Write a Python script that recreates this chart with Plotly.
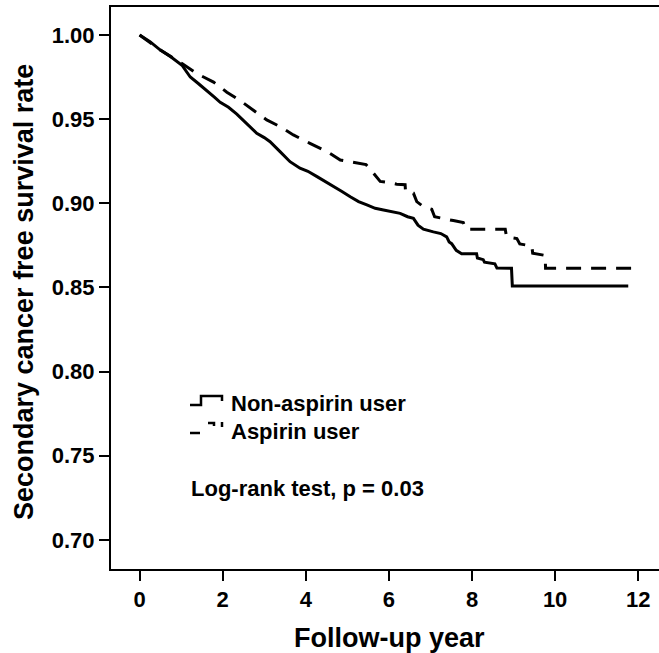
import plotly.graph_objects as go

# Kaplan-Meier curves
non_t = [0, 0.25, 0.5, 0.75, 1.02, 1.22, 1.42, 1.62, 1.8, 1.94, 2.14, 2.34, 2.58, 2.82, 3.0,
         3.14, 3.38, 3.62, 3.86, 4.05, 4.27, 4.47, 4.67, 4.87, 5.07, 5.27, 5.47, 5.67, 5.87,
         6.07, 6.27, 6.45, 6.59, 6.70, 6.83, 7.07, 7.25, 7.39, 7.45, 7.51, 7.62, 7.75, 8.11,
         8.13, 8.27, 8.30, 8.55, 8.60, 8.95, 8.97, 11.76]
non_s = [1.0, 0.996, 0.991, 0.987, 0.982, 0.975, 0.971, 0.967, 0.963, 0.960, 0.957, 0.953,
         0.9475, 0.9416, 0.939, 0.9366, 0.9307, 0.9247, 0.9208, 0.919, 0.9158, 0.913, 0.9099,
         0.907, 0.9039, 0.901, 0.899, 0.897, 0.896, 0.895, 0.894, 0.892, 0.891, 0.887, 0.8846,
         0.883, 0.882, 0.880, 0.877, 0.876, 0.872, 0.870, 0.870, 0.8675, 0.8665, 0.865, 0.864,
         0.8615, 0.8614, 0.8509, 0.8509]

asp_t = [0, 0.5, 1.02, 1.38, 1.78, 2.10, 2.42, 2.74, 3.06, 3.38, 3.70, 4.10, 4.51, 4.83, 5.1,
         5.31, 5.45, 5.63, 5.79, 5.95, 6.19, 6.39, 6.40, 6.59, 6.67, 6.83, 7.03, 7.10, 7.35,
         7.55, 7.79, 7.85, 8.80, 8.83, 9.08, 9.15, 9.44, 9.46, 9.76, 9.77, 12.0]
asp_s = [1.0, 0.991, 0.983, 0.977, 0.972, 0.966, 0.961, 0.9554, 0.9495, 0.9455, 0.9406, 0.9356,
         0.9307, 0.9257, 0.9245, 0.9238, 0.923, 0.9178, 0.913, 0.9125, 0.9113, 0.911, 0.907,
         0.906, 0.901, 0.898, 0.8964, 0.892, 0.8905, 0.8897, 0.8885, 0.8846, 0.8846, 0.880,
         0.879, 0.8758, 0.8746, 0.8703, 0.869, 0.8614, 0.8614]

x_ticks = [0, 2, 4, 6, 8, 10, 12]
y_ticks = [0.70, 0.75, 0.80, 0.85, 0.90, 0.95, 1.00]
y_tick_text = ["0.70", "0.75", "0.80", "0.85", "0.90", "0.95", "1.00"]

W, H = 659, 653
ML, MR, MT, MB = 111, 0, 7, 84
PW, PH = W - ML - MR, H - MT - MB


def px(x):
    return (x - ML) / PW


def py(y):
    return (H - MB - y) / PH


FONT = "Liberation Sans, Arial, sans-serif"

fig = go.Figure()
fig.add_trace(go.Scatter(x=non_t, y=non_s, mode="lines", name="Non-aspirin user",
                         line=dict(color="black", width=3)))
fig.add_trace(go.Scatter(x=asp_t, y=asp_s, mode="lines", name="Aspirin user",
                         line=dict(color="black", width=3, dash="15px,10px")))

# legend keys
shapes = [
    dict(type="path", xref="paper", yref="paper",
         path=f"M{px(190)},{py(405)} L{px(201)},{py(405)} L{px(201)},{py(396)} "
              f"L{px(222)},{py(396)} L{px(222)},{py(401)}",
         line=dict(color="black", width=2.5)),
    dict(type="path", xref="paper", yref="paper",
         path=f"M{px(190)},{py(433)} L{px(200)},{py(433)}",
         line=dict(color="black", width=2.5)),
    dict(type="path", xref="paper", yref="paper",
         path=f"M{px(208)},{py(423)} L{px(214)},{py(423)} L{px(214)},{py(426)}",
         line=dict(color="black", width=2.5)),
    dict(type="path", xref="paper", yref="paper",
         path=f"M{px(222)},{py(422)} L{px(222)},{py(427)}",
         line=dict(color="black", width=2.5)),
]

annotations = [
    dict(text="<b>Non-aspirin user</b>", x=px(229), y=py(403), xref="paper", yref="paper",
         xanchor="left", yanchor="middle", showarrow=False, font=dict(size=22, family=FONT, color="black")),
    dict(text="<b>Aspirin user</b>", x=px(229), y=py(431), xref="paper", yref="paper",
         xanchor="left", yanchor="middle", showarrow=False, font=dict(size=22, family=FONT, color="black")),
    dict(text="<b>Log-rank test, p = 0.03</b>", x=px(189), y=py(488), xref="paper", yref="paper",
         xanchor="left", yanchor="middle", showarrow=False, font=dict(size=22, family=FONT, color="black")),
    dict(text="<b>Follow-up year</b>", x=px(389), y=py(638), xref="paper", yref="paper",
         xanchor="center", yanchor="middle", showarrow=False, font=dict(size=27, family=FONT, color="black")),
    dict(text="<b>Secondary cancer free survival rate</b>", x=px(24), y=py(292), xref="paper", yref="paper",
         xanchor="center", yanchor="middle", textangle=-90, showarrow=False,
         font=dict(size=27, family=FONT, color="black")),
]

fig.update_layout(
    width=W, height=H,
    margin=dict(l=ML, r=MR, t=MT, b=MB),
    paper_bgcolor="white", plot_bgcolor="white",
    showlegend=False,
    shapes=shapes,
    annotations=annotations,
    font=dict(family=FONT, color="black"),
)
fig.update_xaxes(range=[-0.688, 12.5], tickvals=x_ticks, ticktext=[f"<b>{v}</b>" for v in x_ticks],
                 ticks="outside", ticklen=10, tickwidth=2, tickcolor="black",
                 showline=True, linewidth=2, linecolor="black", mirror=True,
                 showgrid=False, zeroline=False, tickfont=dict(size=22, family=FONT, color="black"))
fig.update_yaxes(range=[0.6827, 1.0166], tickvals=y_ticks, ticktext=[f"<b>{v}</b>" for v in y_tick_text],
                 ticks="outside", ticklen=10, tickwidth=2, tickcolor="black",
                 showline=True, linewidth=2, linecolor="black", mirror=False,
                 showgrid=False, zeroline=False, tickfont=dict(size=22, family=FONT, color="black"))

fig.write_html("out.html", config={"displayModeBar": False},
               post_script="document.body.style.margin='0';document.body.style.overflow='hidden';")
